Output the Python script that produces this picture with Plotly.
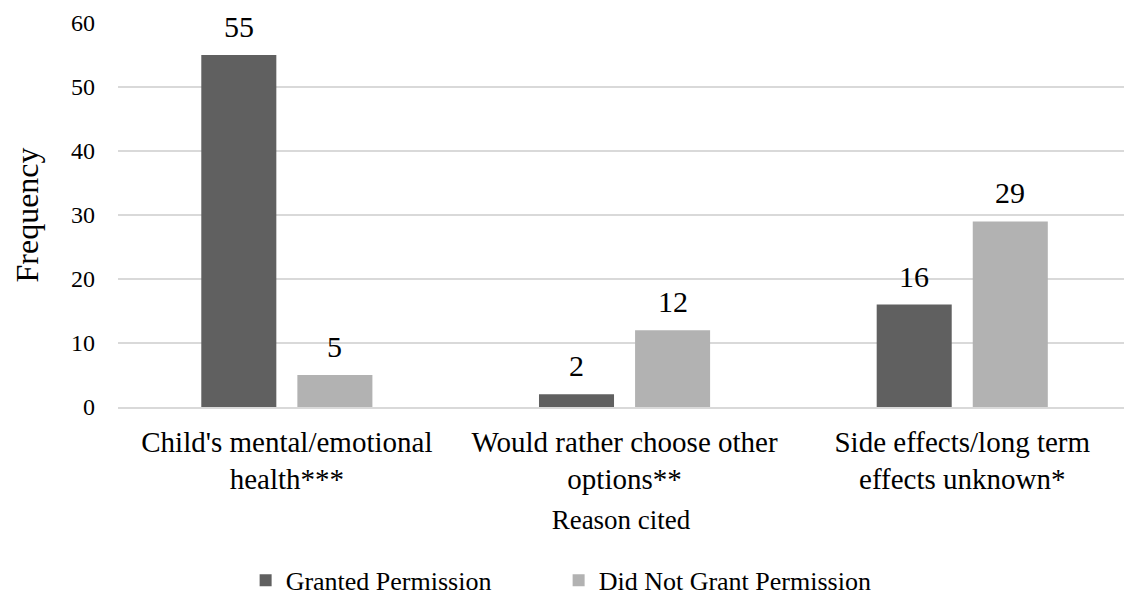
import plotly.graph_objects as go

categories = ["Child's mental/emotional<br>health***",
              "Would rather choose other<br>options**",
              "Side effects/long term<br>effects unknown*"]
granted = [55, 2, 16]
not_granted = [5, 12, 29]
series_names = ["Granted Permission", "Did Not Grant Permission"]
colors = ["#606060", "#B2B2B2"]
y_ticks = [0, 10, 20, 30, 40, 50, 60]

FONT = "Liberation Serif"

fig = go.Figure()
for name, vals, col in zip(series_names, [granted, not_granted], colors):
    fig.add_trace(go.Bar(x=categories, y=vals, name=name,
                         marker=dict(color=col, line=dict(width=0))))

# data labels
for i, vals in enumerate([granted, not_granted]):
    shift = -48 if i == 0 else 48
    for c, v in zip(categories, vals):
        fig.add_annotation(x=c, y=v, text=str(v), showarrow=False,
                           xshift=shift, yshift=10, yanchor="bottom",
                           font=dict(family=FONT, size=30, color="#000000"))

fig.update_layout(
    width=1124, height=604,
    margin=dict(l=118, r=0, t=23, b=197),
    paper_bgcolor="white", plot_bgcolor="white",
    barmode="group", bargap=0.431, bargroupgap=0.219,
    font=dict(family=FONT, color="#000000", size=24),
    showlegend=True,
    legend=dict(orientation="h", x=0.438, xanchor="center",
                y=-0.39, yanchor="top",
                font=dict(family=FONT, size=26, color="#000000"),
                itemwidth=30, entrywidth=268, traceorder="normal"),
    xaxis=dict(range=[-0.5, 2.479], showgrid=False, showline=True,
               linecolor="#D9D9D9", linewidth=1.5, ticks="",
               ticklabelstandoff=8,
               tickfont=dict(family=FONT, size=29, color="#000000"),
               title=dict(text="Reason cited", standoff=16,
                          font=dict(family=FONT, size=27, color="#000000"))),
    yaxis=dict(range=[0, 60], tickvals=y_ticks, showgrid=True,
               gridcolor="#D9D9D9", gridwidth=1.5, zeroline=False,
               showline=False, ticks="", ticklabelstandoff=22,
               tickfont=dict(family=FONT, size=24, color="#000000"),
               title=dict(text="Frequency", standoff=22,
                          font=dict(family=FONT, size=32, color="#000000"))),
)

fig.write_html("out.html")
